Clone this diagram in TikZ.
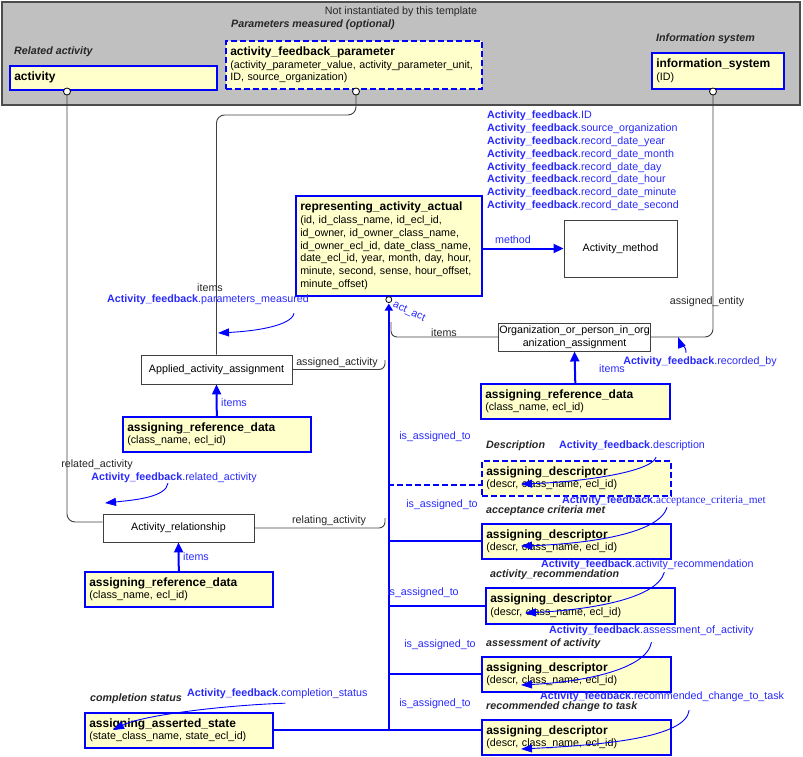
\documentclass[tikz,border=0pt]{standalone}
\usepackage{fontspec}
\setmainfont{Liberation Sans}
\newfontfamily\timesfont{Liberation Serif}
\usetikzlibrary{arrows.meta}

\definecolor{entyellow}{RGB}{255,255,204}
\definecolor{framegray}{RGB}{192,192,192}
\definecolor{lblblue}{RGB}{40,40,255}

\newcommand{\afb}[1]{\textbf{Activity\_feedback}.#1}
\newcommand{\etitle}[1]{{\fontsize{12}{14}\selectfont\bfseries #1}}

\tikzset{
  ent/.style={draw=blue, line width=1.6pt, fill=entyellow, anchor=north west, align=left, inner xsep=4.5pt, inner ysep=2pt},
  dashbox/.style={dash pattern=on 6pt off 3pt},
  plainbox/.style={draw=black!75, line width=0.9pt, fill=white, align=center, inner sep=1pt},
  lbl/.style={text=black!85, inner sep=0pt},
  bluelbl/.style={text=lblblue, inner sep=0pt},
  note/.style={font=\bfseries\itshape, text=black!85, inner sep=0pt, anchor=west},
  conn/.style={draw=black!75, line width=0.9pt},
  port/.style={draw=black, fill=white, line width=0.8pt},
  bus/.style={draw=blue, line width=2pt},
  items/.style={draw=blue, line width=2pt, -{Triangle[length=10pt,width=9pt]}},
  fbarrow/.style={draw=blue, line width=0.9pt, -{Triangle[length=11pt,width=8pt]}},
}

\begin{document}
\fontsize{10.7}{12.8}\selectfont
\begin{tikzpicture}[x=1pt,y=-1pt]
    \useasboundingbox (0,0) rectangle (803,757);
    % not instantiated part
    \draw[fill=framegray, draw=black!70, line width=1.5pt] (2,2) rectangle (800,105);
    \node[lbl] (notinst) at (401,12) {Not instantiated by this template};
    \node[note] (relact) at (14,52) {Related activity};
    \node[ent, text width=198pt, minimum height=24pt] (act) at (9,65) {\etitle{activity}};
    \node[note] (parmeas) at (231,25) {Parameters measured (optional)};
    \node[ent, dashbox, text width=247pt, minimum height=48pt] (afp) at (225,40) {\etitle{activity\_feedback\_parameter}\\(activity\_parameter\_value, activity\_parameter\_unit,\\ID, source\_organization)};
    \node[note] (infsys) at (656,39) {Information system};
    \node[ent, text width=123pt, minimum height=36pt] (infosys) at (651,52) {\etitle{information\_system}\\(ID)};
    \coordinate (actport) at (67,91.5);
    \coordinate (afpport) at (356,91.5);
    \coordinate (infport) at (713,91.5);

    % entities
    \node[ent, text width=177pt, minimum height=100pt] (raa) at (295,195) {\etitle{representing\_activity\_actual}\\(id, id\_class\_name, id\_ecl\_id,\\id\_owner, id\_owner\_class\_name,\\id\_owner\_ecl\_id, date\_class\_name,\\date\_ecl\_id, year, month, day, hour,\\minute, second, sense, hour\_offset,\\minute\_offset)};
    \node[bluelbl, anchor=north west, align=left] (fbattrs) at (487,111) {\afb{ID}\\\afb{source\_organization}\\\afb{record\_date\_year}\\\afb{record\_date\_month}\\\afb{record\_date\_day}\\\afb{record\_date\_hour}\\\afb{record\_date\_minute}\\\afb{record\_date\_second}};
    \node[plainbox, minimum width=113pt, minimum height=57pt] (method) at (620.5,248.5) {Activity\_method};
    \node[plainbox, minimum width=151pt, minimum height=28pt] (oia) at (574.5,337) {Organization\_or\_person\_in\_org\\anization\_assignment};
    \node[plainbox, minimum width=151pt, minimum height=29pt] (aaa) at (216.5,369.5) {Applied\_activity\_assignment};
    \node[plainbox, minimum width=151pt, minimum height=28pt] (arel) at (178.5,528) {Activity\_relationship};
    \node[ent, text width=179pt, minimum height=35pt] (ard1) at (122,416) {\etitle{assigning\_reference\_data}\\(class\_name, ecl\_id)};
    \node[ent, text width=180pt, minimum height=35pt] (ard2) at (480,383) {\etitle{assigning\_reference\_data}\\(class\_name, ecl\_id)};
    \node[ent, text width=179pt, minimum height=35pt] (ard3) at (84,571) {\etitle{assigning\_reference\_data}\\(class\_name, ecl\_id)};
    \node[ent, dashbox, text width=180pt, minimum height=35pt] (ad1) at (481,460) {\etitle{assigning\_descriptor}\\(descr, class\_name, ecl\_id)};
    \node[ent, text width=180pt, minimum height=35pt] (ad2) at (481,523) {\etitle{assigning\_descriptor}\\(descr, class\_name, ecl\_id)};
    \node[ent, text width=180pt, minimum height=36pt] (ad3) at (485,587) {\etitle{assigning\_descriptor}\\(descr, class\_name, ecl\_id)};
    \node[ent, text width=180pt, minimum height=35pt] (ad4) at (481,656) {\etitle{assigning\_descriptor}\\(descr, class\_name, ecl\_id)};
    \node[ent, text width=180pt, minimum height=35pt] (ad5) at (481,719) {\etitle{assigning\_descriptor}\\(descr, class\_name, ecl\_id)};
    \node[ent, text width=179pt, minimum height=35pt] (aas) at (84,712) {\etitle{assigning\_asserted\_state}\\(state\_class\_name, state\_ecl\_id)};

    % connectors from the template frame
    \draw[conn, rounded corners=8pt] (actport) |- ([yshift=6pt]arel.west);
    \draw[conn, rounded corners=8pt] (afpport) -- (356,115) -| (aaa.north);
    \draw[conn, rounded corners=8pt] (infport) |- (oia.east);
    \foreach \p in {actport,afpport,infport}
        \draw[port] (\p) circle[radius=3.5pt];

    % the act_act bus
    \draw[bus, -{Triangle[length=7pt,width=8pt]}] (aas.east -| raa.south) -- ([yshift=-7pt]raa.south);
    \draw[port] ([yshift=-3pt]raa.south) circle[radius=3pt];
    \draw[conn, rounded corners=6pt] (oia.west) -| (391,322);
    \draw[conn, rounded corners=6pt] (aaa.east) -| (385,360);
    \draw[conn, rounded corners=6pt] (arel.east) -| (385,518);
    \draw[bus, dashbox] (388,485) -- (481,485);
    \draw[bus] (ad2.west) -- (ad2.west -| raa.south);
    \draw[bus] (ad3.west) -- (ad3.west -| raa.south);
    \draw[bus] (ad4.west) -- (ad4.west -| raa.south);
    \draw[bus] (aas.east) -- (aas.east -| ad5.west);
    \draw[items] (raa.east |- method.west) -- (method.west);
    \draw[items] (ard1.north) -- (aaa.south);
    \draw[items] (ard2.north) -- (oia.south);
    \draw[items] (ard3.north) -- (arel.south);

    % role labels
    \node[bluelbl] (lmethod) at (513,240) {method};
    \node[lbl] (litems1) at (210,288) {items};
    \node[lbl] (lassent) at (707,302) {assigned\_entity};
    \node[bluelbl, rotate=-25] (lactact) at (409,312) {act\_act};
    \node[lbl] (litems2) at (444,333) {items};
    \node[lbl] (lassact) at (337,363) {assigned\_activity};
    \node[bluelbl] (litems3) at (612,369) {items};
    \node[bluelbl] (litems4) at (234,403) {items};
    \node[lbl] (lrelact) at (97,465) {related\_activity};
    \node[lbl] (lrelating) at (329,521) {relating\_activity};
    \node[bluelbl] (litems5) at (196,557) {items};
    \node[bluelbl] (lis1) at (435,437) {is\_assigned\_to};
    \node[bluelbl] (lis2) at (442,505) {is\_assigned\_to};
    \node[bluelbl] (lis3) at (423,593) {is\_assigned\_to};
    \node[bluelbl] (lis4) at (440,645) {is\_assigned\_to};
    \node[bluelbl] (lis5) at (435,704) {is\_assigned\_to};

    % descriptions
    \node[note] (ndesc) at (486,446) {Description};
    \node[note] (nacc) at (486,511) {acceptance criteria met};
    \node[note] (nrecom) at (490,575) {activity\_recommendation};
    \node[note] (nass) at (486,644) {assessment of activity};
    \node[note] (nchg) at (486,707) {recommended change to task};
    \node[note] (ncomp) at (90,699) {completion status};

    % feedback mappings
    \node[bluelbl] (fbpm) at (208,300) {\afb{parameters\_measured}};
    \node[bluelbl] (fbrec) at (700,362) {\afb{recorded\_by}};
    \node[bluelbl] (fbrel) at (174,478) {\afb{related\_activity}};
    \node[bluelbl, anchor=west] (fbdesc) at (559,446) {\afb{description}};
    \node[bluelbl, anchor=west] (fbacc) at (562,501) {\textbf{Activity\_feedback}{\timesfont\fontsize{11.3}{13}\selectfont.acceptance\_criteria\_met}};
    \node[bluelbl, anchor=west] (fbrecom) at (541,565) {\afb{activity\_recommendation}};
    \node[bluelbl, anchor=west] (fbass) at (549,631) {\afb{assessment\_of\_activity}};
    \node[bluelbl, anchor=west] (fbchg) at (540,697) {\afb{recommended\_change\_to\_task}};
    \node[bluelbl, anchor=west] (fbcomp) at (187,694) {\afb{completion\_status}};
    \draw[fbarrow] (fbpm.south east) ++(-15,8) .. controls +(-2,12) and +(40,-2) .. (218,333);
    \draw[fbarrow] (fbrec.north) ++(-14,-4) .. controls +(0,-8) and +(3,8) .. (678,337);
    \draw[fbarrow] (fbrel.south) ++(-6,0) .. controls +(-2,14) and +(30,-3) .. (105,503);
    \draw[fbarrow] (fbdesc.south east) ++(-49,6) .. controls +(-5,15) and +(60,-2) .. (521,484);
    \draw[fbarrow] (fbacc.south) ++(3,1) .. controls +(-8,28) and +(60,-2) .. (521,546);
    \draw[fbarrow] (fbrecom.south) ++(17,2) .. controls +(-8,28) and +(60,-3) .. (525,613);
    \draw[fbarrow] (fbass.south) ++(0,6) .. controls +(-5,28) and +(60,-3) .. (521,685);
    \draw[fbarrow] (fbchg.south) ++(27,8) .. controls +(-3,28) and +(80,-4) .. (521,749);
    \draw[fbarrow] (fbcomp.south) ++(8,4) .. controls +(-60,2) and +(30,-15) .. (113,730);
\end{tikzpicture}
\end{document}
